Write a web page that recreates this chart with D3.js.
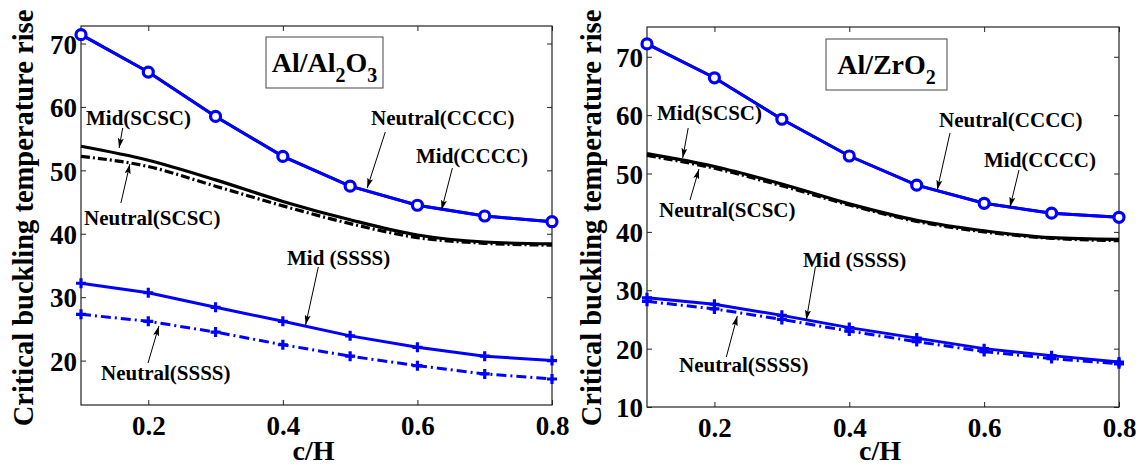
<!DOCTYPE html>
<html><head><meta charset="utf-8">
<script src="https://cdn.jsdelivr.net/npm/d3@7"></script>
<style>
html,body{margin:0;padding:0;background:#fff;}
svg text{font-family:'Liberation Serif','Tinos','Times New Roman','DejaVu Serif','Noto Serif',serif;font-weight:bold;fill:#000;}
</style></head>
<body><svg id="c" width="1139" height="469"></svg>
<script>
// ---- data ----
const cH = [0.1, 0.2, 0.3, 0.4, 0.5, 0.6, 0.7, 0.8];
const xTicks = [0.2, 0.4, 0.6, 0.8];

// Al/Al2O3
const alAl2O3_midCCCC = [71.4, 65.5, 58.5, 52.2, 47.5, 44.5, 42.8, 41.9];
const alAl2O3_neuCCCC = [71.4, 65.5, 58.5, 52.2, 47.5, 44.5, 42.8, 41.9];
const alAl2O3_midSCSC = [53.8, 51.6, 48.5, 45.1, 42.2, 39.8, 38.7, 38.4];
const alAl2O3_neuSCSC = [52.2, 50.6, 47.5, 44.4, 41.6, 39.4, 38.5, 38.2];
const alAl2O3_midSSSS = [32.2, 30.7, 28.4, 26.2, 23.9, 22.1, 20.7, 20.0];
const alAl2O3_neuSSSS = [27.3, 26.2, 24.5, 22.5, 20.7, 19.2, 17.9, 17.1];
const alAl2O3_yTicks = [20, 30, 40, 50, 60, 70];
const alAl2O3_yDomain = [13, 72.76];

// Al/ZrO2
const alZrO2_midCCCC = [72.2, 66.4, 59.3, 53.0, 48.0, 44.9, 43.2, 42.5];
const alZrO2_neuCCCC = [72.2, 66.4, 59.3, 53.0, 48.0, 44.9, 43.2, 42.5];
const alZrO2_midSCSC = [53.4, 51.2, 48.2, 44.8, 42.0, 40.2, 39.0, 38.7];
const alZrO2_neuSCSC = [53.1, 50.9, 47.9, 44.6, 41.8, 40.0, 38.9, 38.5];
const alZrO2_midSSSS = [28.7, 27.6, 25.7, 23.6, 21.8, 20.0, 18.8, 17.7];
const alZrO2_neuSSSS = [28.1, 26.8, 25.0, 23.0, 21.2, 19.5, 18.3, 17.4];
const alZrO2_yTicks = [10, 20, 30, 40, 50, 60, 70];
const alZrO2_yDomain = [10, 75.1];

const xLabel = "c/H";
const yLabel = "Critical buckling temperature rise";

// ---- layout ----
const svg = d3.select("#c");
const BLUE = "#0000ff";
const FONT = "'Liberation Serif','Tinos','Times New Roman','DejaVu Serif','Noto Serif',serif";

const panels = [
  { box:{l:81, t:26, r:552, b:405}, yDomain:alAl2O3_yDomain, yTicks:alAl2O3_yTicks,
    series:{midCCCC:alAl2O3_midCCCC, neuCCCC:alAl2O3_neuCCCC, midSCSC:alAl2O3_midSCSC,
            neuSCSC:alAl2O3_neuSCSC, midSSSS:alAl2O3_midSSSS, neuSSSS:alAl2O3_neuSSSS},
    title:[["Al/Al",0],["2",1],["O",0],["3",1]], titleBox:{x:185,y:11,w:117,h:51},
    yLabelX:33,
    notes:[
      {t:"Mid(SCSC)", tx:5, ty:99, a:[41.7,102,38.1,122]},
      {t:"Neutral(SCSC)", tx:3, ty:199, a:[39.9,177,48.9,138]},
      {t:"Neutral(CCCC)", tx:290, ty:99, a:[304.3,106,286.2,162]},
      {t:"Mid(CCCC)", tx:335, ty:137, a:[371.4,142,360.5,184]},
      {t:"Mid (SSSS)", tx:206, ty:239, a:[237.3,241,224.6,299]},
      {t:"Neutral(SSSS)", tx:20, ty:354, a:[67,337,77.9,300]}
    ]},
  { box:{l:647, t:27, r:1119, b:407}, yDomain:alZrO2_yDomain, yTicks:alZrO2_yTicks,
    series:{midCCCC:alZrO2_midCCCC, neuCCCC:alZrO2_neuCCCC, midSCSC:alZrO2_midSCSC,
            neuSCSC:alZrO2_neuSCSC, midSSSS:alZrO2_midSSSS, neuSSSS:alZrO2_neuSSSS},
    title:[["Al/ZrO",0],["2",1]], titleBox:{x:179,y:12,w:121,h:51},
    yLabelX:601,
    notes:[
      {t:"Mid(SCSC)", tx:10, ty:93, a:[41.2,101,35.7,131]},
      {t:"Neutral(SCSC)", tx:12, ty:190, a:[43,173,52,142]},
      {t:"Neutral(CCCC)", tx:292, ty:100, a:[303,106,290.2,163]},
      {t:"Mid(CCCC)", tx:337, ty:140, a:[372,143,363,180]},
      {t:"Mid (SSSS)", tx:156, ty:240, a:[168.4,240,159.3,293]},
      {t:"Neutral(SSSS)", tx:32, ty:345, a:[79.3,330,90.3,289]}
    ]}
];

svg.append("defs").append("marker")
  .attr("id","ah").attr("viewBox","0 0 10 6").attr("refX",10).attr("refY",3)
  .attr("markerWidth",10).attr("markerHeight",6).attr("markerUnits","userSpaceOnUse")
  .attr("orient","auto")
  .append("path").attr("d","M0,0 L10,3 L0,6 L2,3 Z").attr("fill","#000");

panels.forEach(p => {
  const B = p.box, W = B.r - B.l, H = B.b - B.t;
  const x = d3.scaleLinear().domain([0.1, 0.8]).range([0, W]);
  const y = d3.scaleLinear().domain(p.yDomain).range([H, 0]);
  const g = svg.append("g").attr("transform", `translate(${B.l},${B.t})`).attr("font-family",FONT).attr("font-weight","bold");

  g.append("rect").attr("width",W).attr("height",H).attr("fill","none").attr("stroke","#222").attr("stroke-width",1.2);

  const ax = (gen, tr) => {
    const a = g.append("g").attr("transform", tr).call(gen);
    a.attr("font-family",FONT).attr("font-weight","bold");
    a.select(".domain").remove();
    a.selectAll(".tick line").attr("stroke","#222").attr("stroke-width",1);
    return a;
  };
  const xb = ax(d3.axisBottom(x).tickValues(xTicks).tickSize(-5).tickFormat(d3.format(".1f")), `translate(0,${H})`);
  xb.selectAll("text").attr("font-size",27).attr("dy","0.71em").attr("y",11);
  ax(d3.axisTop(x).tickValues(xTicks).tickSize(-5).tickFormat(""), "translate(0,0)");
  const yl = ax(d3.axisLeft(y).tickValues(p.yTicks).tickSize(-5), "translate(0,0)");
  yl.selectAll("text").attr("font-size",27).attr("x",-4).attr("dy","0.36em");
  ax(d3.axisRight(y).tickValues(p.yTicks).tickSize(-5).tickFormat(""), `translate(${W},0)`);

  svg.append("text").attr("x", B.l + W/2 - 3).attr("y", 460).attr("text-anchor","middle")
    .attr("font-size",28).attr("font-family",FONT).text(xLabel);
  svg.append("text").attr("transform", `translate(${p.yLabelX},${218}) rotate(-90)`)
    .attr("text-anchor","middle").attr("font-size",28.5).attr("font-family",FONT).text(yLabel);

  const clip = "clip" + B.l;
  g.append("clipPath").attr("id",clip).append("rect").attr("x",-8).attr("y",-8).attr("width",W+16).attr("height",H+16);
  const L = g.append("g").attr("clip-path",`url(#${clip})`);

  const smooth = d3.line().x((d,i)=>x(cH[i])).y(d=>y(d)).curve(d3.curveMonotoneX);
  const lin = d3.line().x((d,i)=>x(cH[i])).y(d=>y(d));

  const S = p.series;
  L.append("path").attr("d", smooth(S.neuSCSC)).attr("fill","none").attr("stroke","#000")
    .attr("stroke-width",3.2).attr("stroke-dasharray","9,3,2,3");
  L.append("path").attr("d", smooth(S.midSCSC)).attr("fill","none").attr("stroke","#000").attr("stroke-width",3.2);

  L.append("path").attr("d", lin(S.neuSSSS)).attr("fill","none").attr("stroke",BLUE)
    .attr("stroke-width",3).attr("stroke-dasharray","10,4,2,4");
  L.append("path").attr("d", lin(S.midSSSS)).attr("fill","none").attr("stroke",BLUE).attr("stroke-width",3);
  const plus = (arr) => L.append("g").selectAll("path").data(arr).join("path")
    .attr("transform",(d,i)=>`translate(${x(cH[i])},${y(d)})`)
    .attr("d","M-5,0H5M0,-5V5").attr("stroke",BLUE).attr("stroke-width",3.2).attr("fill","none");
  plus(S.neuSSSS); plus(S.midSSSS);

  L.append("path").attr("d", lin(S.neuCCCC)).attr("fill","none").attr("stroke",BLUE).attr("stroke-width",3);
  L.append("path").attr("d", lin(S.midCCCC)).attr("fill","none").attr("stroke",BLUE).attr("stroke-width",3);
  L.append("g").selectAll("circle").data(S.midCCCC).join("circle")
    .attr("cx",(d,i)=>x(cH[i])).attr("cy",d=>y(d)).attr("r",5)
    .attr("fill","#fff").attr("stroke",BLUE).attr("stroke-width",3.2);

  const tb = p.titleBox;
  g.append("rect").attr("x",tb.x).attr("y",tb.y).attr("width",tb.w).attr("height",tb.h)
    .attr("fill","#fff").attr("stroke","#444").attr("stroke-width",1);
  const tt = g.append("text").attr("x", tb.x + tb.w/2).attr("y", tb.y + 35).attr("text-anchor","middle").attr("font-size",28);
  p.title.forEach(([s,sub], k) => {
    const ts = tt.append("tspan").text(s);
    if (sub) ts.attr("font-size",20).attr("dy",10);
    else if (k > 0) ts.attr("dy",-10);
  });

  p.notes.forEach(n => {
    g.append("text").attr("x",n.tx).attr("y",n.ty).attr("font-size",21).text(n.t);
    g.append("line").attr("x1",n.a[0]).attr("y1",n.a[1]).attr("x2",n.a[2]).attr("y2",n.a[3])
      .attr("stroke","#000").attr("stroke-width",1).attr("marker-end","url(#ah)");
  });
});
</script></body></html>
